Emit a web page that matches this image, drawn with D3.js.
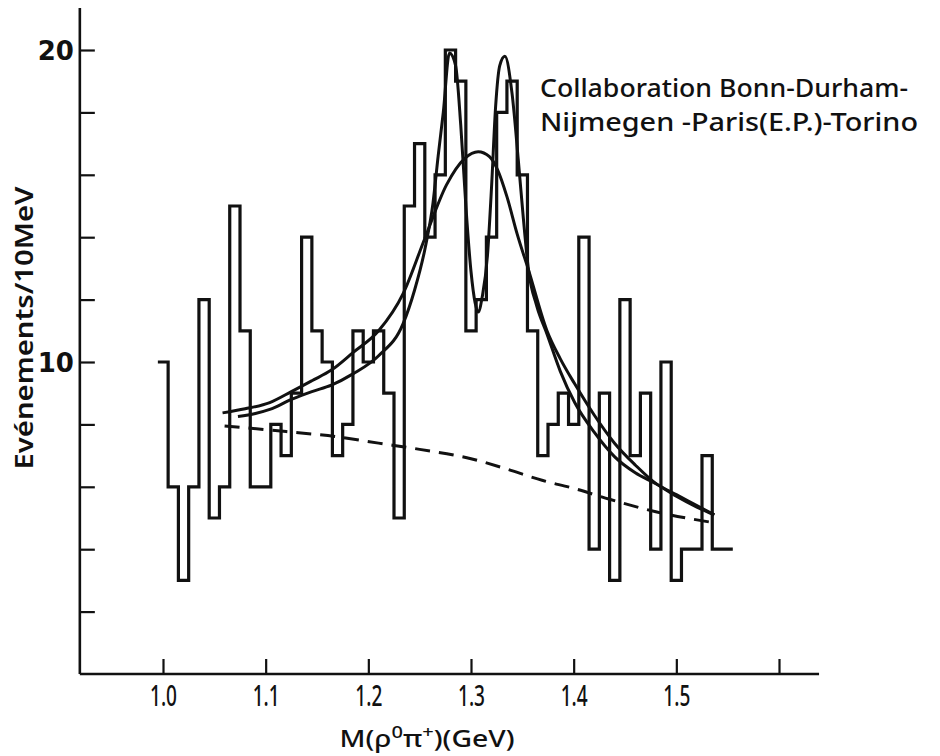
<!DOCTYPE html>
<html><head><meta charset="utf-8">
<script src="https://cdn.jsdelivr.net/npm/d3@7/dist/d3.min.js"></script>
<style>body{margin:0;background:#fff}</style>
</head><body>
<svg id="chart" width="940" height="756"></svg>
<script>
// ---- data ----
const binCenters = [1.00,1.01,1.02,1.03,1.04,1.05,1.06,1.07,1.08,1.09,1.10,1.11,1.12,1.13,1.14,1.15,1.16,1.17,1.18,1.19,
  1.20,1.21,1.22,1.23,1.24,1.25,1.26,1.27,1.28,1.29,1.30,1.31,1.32,1.33,1.34,1.35,1.36,1.37,1.38,1.39,
  1.40,1.41,1.42,1.43,1.44,1.45,1.46,1.47,1.48,1.49,1.50,1.51,1.52,1.53,1.54,1.55];
const counts = [10,6,3,6,12,5,6,15,11,6,6,8,7,9,14,11,10,7,8,11,
  10,11,9,5,15,17,14,16,20,19,11,12,14,18,19,16,11,7,8,9,
  8,14,4,9,3,12,7,9,4,10,3,4,4,7,4,4];
const binWidth = 0.01;

// single Breit-Wigner + background fit
const broadMass = [1.058,1.08,1.104,1.125,1.145,1.164,1.185,1.21,1.234,1.255,1.276,1.294,1.307,1.318,1.326,1.335,1.345,1.356,1.374,1.387,1.401,1.42,1.44,1.46,1.48,1.50,1.52,1.537];
const broadFit  = [8.37,8.5,8.7,9.05,9.4,9.74,10.3,11.0,12.2,13.96,15.67,16.53,16.74,16.58,16.15,15.3,14.1,12.95,11.0,10.1,9.3,8.3,7.39,6.7,6.11,5.75,5.4,5.1];

// double-peak fit
const doubleMass = [1.073,1.09,1.104,1.125,1.145,1.164,1.185,1.21,1.234,1.245,1.255,1.263,1.268,1.273,1.279,1.285,1.290,1.295,1.300,1.304,1.307,1.311,1.316,1.320,1.324,1.328,1.333,1.340,1.346,1.351,1.356,1.364,1.374,1.387,1.401,1.42,1.44,1.46,1.48,1.50,1.52,1.537];
const doubleFit  = [8.25,8.35,8.48,8.8,9.05,9.26,9.62,10.2,11.24,12.3,13.6,15.1,16.6,18.0,19.9,19.5,17.6,15.0,12.9,11.9,11.6,12.1,13.4,15.6,18.2,19.5,19.8,18.6,16.5,14.6,12.95,11.8,10.9,9.7,8.7,7.75,6.96,6.45,6.1,5.7,5.35,5.1];

// background (dashed)
const bgMass = [1.06,1.12,1.17,1.21,1.25,1.30,1.33,1.37,1.40,1.435,1.48,1.54];
const bgFit  = [7.95,7.77,7.6,7.4,7.2,6.9,6.62,6.2,5.95,5.6,5.2,4.83];

const xTicks = [1.0,1.1,1.2,1.3,1.4,1.5,1.6];
const xTickLabels = ["1.0","1.1","1.2","1.3","1.4","1.5",""];
const yTicks = [2,4,6,8,10,12,14,16,18,20];
const yTickLabels = ["","","","","10","","","","","20"];
const titleLines = ["Collaboration Bonn-Durham-","Nijmegen -Paris(E.P.)-Torino"];

// ---- scales ----
const svg = d3.select("#chart");
const x = d3.scaleLinear().domain([1.0, 1.6]).range([163, 779]);
const y = d3.scaleLinear().domain([0, 20]).range([674, 50]);
const ink = "#111";

// axes
const yAxis = d3.axisLeft(y).tickValues(yTicks).tickSize(-15).tickPadding(6)
  .tickFormat((d,i) => yTickLabels[i]);
const gy = svg.append("g").attr("transform", `translate(${x(0.919)},0)`).call(yAxis);
gy.select(".domain").remove();
gy.selectAll(".tick line").attr("stroke", ink).attr("stroke-width", 2.2);
gy.selectAll(".tick text").attr("fill", ink).style("font-family","DejaVu Sans, sans-serif")
  .style("font-weight","bold").style("font-size","26px").attr("dy","0.36em");

const xAxis = d3.axisBottom(x).tickValues(xTicks).tickSize(-15).tickPadding(11)
  .tickFormat((d,i) => xTickLabels[i]);
const gx = svg.append("g").attr("transform", `translate(0,${y(0)})`).call(xAxis);
gx.select(".domain").remove();
gx.selectAll(".tick line").attr("stroke", ink).attr("stroke-width", 2.2);
gx.selectAll(".tick text").attr("fill", ink).style("font-family","Noto Sans, DejaVu Sans, sans-serif")
  .style("font-size","29px").style("font-weight","500")
  .attr("textLength", d => d < 1.55 ? 27 : null).attr("lengthAdjust","spacingAndGlyphs");

// axis lines
svg.append("line").attr("x1", x(0.919)).attr("x2", x(0.919)).attr("y1", y(0)).attr("y2", y(21.35))
  .attr("stroke", ink).attr("stroke-width", 2.6);
svg.append("line").attr("x1", x(0.919)).attr("x2", x(1.639)).attr("y1", y(0)).attr("y2", y(0))
  .attr("stroke", ink).attr("stroke-width", 2.6);

// histogram (step outline)
const stepPts = binCenters.map((c,i) => [c - binWidth/2, counts[i]]);
stepPts.push([binCenters[binCenters.length-1] + binWidth/2, counts[counts.length-1]]);
const stepLine = d3.line().x(d => x(d[0])).y(d => y(d[1])).curve(d3.curveStepAfter);
svg.append("path").attr("d", stepLine(stepPts)).attr("fill","none").attr("stroke", ink)
  .attr("stroke-width", 3.2).attr("stroke-linejoin","miter");

// fits
const fitLine = d3.line().x(d => x(d[0])).y(d => y(d[1])).curve(d3.curveMonotoneX);
svg.append("path").attr("d", fitLine(broadMass.map((m,i)=>[m, broadFit[i]])))
  .attr("fill","none").attr("stroke", ink).attr("stroke-width", 3);
svg.append("path").attr("d", fitLine(doubleMass.map((m,i)=>[m, doubleFit[i]])))
  .attr("fill","none").attr("stroke", ink).attr("stroke-width", 3);
svg.append("path").attr("d", fitLine(bgMass.map((m,i)=>[m, bgFit[i]])))
  .attr("fill","none").attr("stroke", ink).attr("stroke-width", 3).attr("stroke-dasharray","15,9");

// labels
svg.append("text").attr("transform", `translate(33,328) rotate(-90)`).attr("text-anchor","middle")
  .attr("fill", ink).style("font-family","Noto Sans, DejaVu Sans, sans-serif").style("font-size","25px")
  .style("font-weight","600").attr("textLength", 283).attr("lengthAdjust","spacingAndGlyphs")
  .text("Evénements/10MeV");

const xl = svg.append("text").attr("x", 427).attr("y", 747).attr("text-anchor","middle")
  .attr("fill", ink).style("font-family","Noto Sans, DejaVu Sans, sans-serif").style("font-size","24px")
  .style("font-weight","500").attr("textLength", 175).attr("lengthAdjust","spacingAndGlyphs");
xl.append("tspan").text("M(ρ");
xl.append("tspan").attr("dy", -9).style("font-size","17px").text("0");
xl.append("tspan").attr("dy", 9).text("π");
xl.append("tspan").attr("dy", -9).style("font-size","17px").text("+");
xl.append("tspan").attr("dy", 9).text(")(GeV)");

svg.selectAll("text.title").data(titleLines).enter().append("text").attr("class","title")
  .attr("x", 540).attr("y", (d,i) => 97 + i*34)
  .attr("fill", ink).style("font-family","Noto Sans, DejaVu Sans, sans-serif").style("font-size","26px")
  .style("font-weight","500")
  .attr("textLength", (d,i) => i === 0 ? 368 : 378).attr("lengthAdjust","spacingAndGlyphs")
  .text(d => d);
</script>
</body></html>
